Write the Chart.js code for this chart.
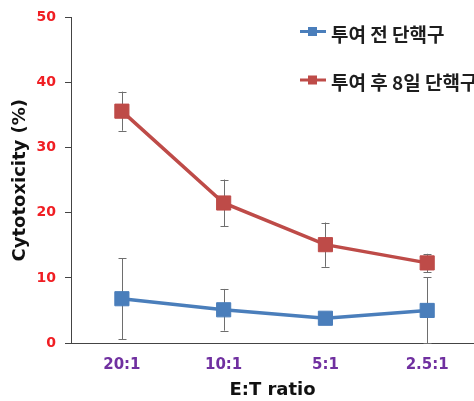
<!DOCTYPE html>
<html>
<head>
<meta charset="utf-8">
<script src="https://cdn.jsdelivr.net/npm/chart.js@4"></script>
<style>
  body { margin: 0; background: #fff; }
  canvas { display: block; }
</style>
</head>
<body>
<canvas id="myChart" width="474" height="401"></canvas>
<script>

// E:T ratio categories
const categories = ['20:1', '10:1', '5:1', '2.5:1'];

// cytotoxicity (%) and error (+/-)
const beforeValues = [6.8, 5.1, 3.8, 5.0];
const beforeErrors = [6.2, 3.2, 0.5, 5.1];
const afterValues = [35.6, 21.5, 15.1, 12.3];
const afterErrors = [3.0, 3.6, 3.4, 1.4];

const seriesLabels = ['투여 전 단핵구', '투여 후 8일 단핵구'];
const yTicks = [0, 10, 20, 30, 40, 50];

const blue = '#4a7ebb';
const red = '#be4b48';

// vertical error bars, drawn under the lines
const errorBars = {
    id: 'errorBars',
    beforeDatasetsDraw(chart) {
        const ctx = chart.ctx;
        const xs = chart.scales.x;
        const ys = chart.scales.y;
        ctx.save();
        ctx.strokeStyle = '#6e6e6e';
        ctx.lineWidth = 1;
        chart.data.datasets.forEach((ds) => {
            ds.data.forEach((pt, i) => {
                const err = ds.errors[i];
                const x = Math.round(xs.getPixelForValue(pt.x)) + 0.5;
                const top = ys.getPixelForValue(pt.y + err);
                const bot = ys.getPixelForValue(Math.max(pt.y - err, 0));
                ctx.beginPath();
                ctx.moveTo(x, top);
                ctx.lineTo(x, bot);
                ctx.moveTo(x - 4, Math.round(top) + 0.5);
                ctx.lineTo(x + 4, Math.round(top) + 0.5);
                ctx.moveTo(x - 4, Math.round(bot) + 0.5);
                ctx.lineTo(x + 4, Math.round(bot) + 0.5);
                ctx.stroke();
            });
        });
        ctx.restore();
    }
};

// legend in the top right corner
const cornerLegend = {
    id: 'cornerLegend',
    afterDraw(chart) {
        const ctx = chart.ctx;
        const rows = [31.5, 80];
        ctx.save();
        chart.data.datasets.forEach((ds, i) => {
            const y = rows[i];
            ctx.strokeStyle = ds.borderColor;
            ctx.lineWidth = 3;
            ctx.beginPath();
            ctx.moveTo(300, y);
            ctx.lineTo(326, y);
            ctx.stroke();
            ctx.fillStyle = ds.backgroundColor;
            ctx.fillRect(308, y - 4.5, 9, 9);
            ctx.fillStyle = '#1e1e1e';
            ctx.font = 'bold 19px "Noto Sans CJK KR"';
            ctx.textBaseline = 'middle';
            ctx.textAlign = 'left';
            ctx.fillText(ds.label, 331, y + 3);
        });
        ctx.restore();
    }
};

function toPoints(values) {
    return values.map((v, i) => ({ x: i, y: v }));
}

const ctx = document.getElementById('myChart').getContext('2d');

const myChart = new Chart(ctx, {
    type: 'line',
    data: {
        datasets: [{
            label: seriesLabels[0],
            data: toPoints(beforeValues),
            errors: beforeErrors,
            borderColor: blue,
            backgroundColor: blue,
            borderWidth: 3.5,
            pointStyle: 'rect',
            pointRadius: 10,
            pointBorderWidth: 1,
            tension: 0
        }, {
            label: seriesLabels[1],
            data: toPoints(afterValues),
            errors: afterErrors,
            borderColor: red,
            backgroundColor: red,
            borderWidth: 3.5,
            pointStyle: 'rect',
            pointRadius: 10,
            pointBorderWidth: 1,
            tension: 0
        }]
    },
    options: {
        responsive: false,
        animation: false,
        devicePixelRatio: 1,
        layout: {
            autoPadding: false,
            padding: { top: 16, right: 0, left: 0, bottom: 0 }
        },
        plugins: {
            legend: { display: false },
            tooltip: { enabled: false }
        },
        scales: {
            x: {
                type: 'linear',
                min: -0.5,
                max: 3.46,
                afterBuildTicks: (scale) => {
                    scale.ticks = categories.map((c, i) => ({ value: i }));
                },
                afterFit: (scale) => {
                    scale.height = 58;
                    scale.paddingLeft = 0;
                    scale.paddingRight = 0;
                },
                grid: { display: false },
                border: { color: '#444', width: 1 },
                ticks: {
                    color: '#7030a0',
                    font: { family: 'DejaVu Sans', size: 15, weight: 'bold' },
                    padding: 5,
                    callback: (v) => categories[v]
                },
                title: {
                    display: true,
                    text: 'E:T ratio',
                    color: '#111',
                    font: { family: 'DejaVu Sans', size: 18, weight: 'bold' },
                    padding: { top: 0, bottom: 0 }
                }
            },
            y: {
                min: 0,
                max: 50,
                afterBuildTicks: (scale) => {
                    scale.ticks = yTicks.map((v) => ({ value: v }));
                },
                afterFit: (scale) => { scale.width = 71; },
                grid: { drawOnChartArea: false, tickLength: 6, color: '#444' },
                border: { color: '#444', width: 1 },
                ticks: {
                    color: '#f01e23',
                    font: { family: 'DejaVu Sans', size: 14, weight: 'bold' },
                    padding: 9
                },
                title: {
                    display: true,
                    text: 'Cytotoxicity (%)',
                    color: '#111',
                    font: { family: 'DejaVu Sans', size: 18, weight: 'bold' },
                    padding: { top: 10, bottom: 0 }
                }
            }
        }
    },
    plugins: [errorBars, cornerLegend]
});

</script>
</body>
</html>
